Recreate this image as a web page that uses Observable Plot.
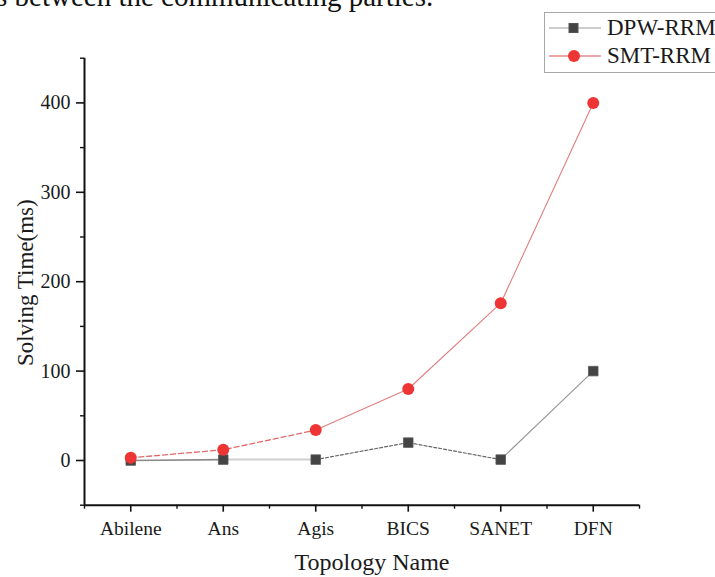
<!DOCTYPE html>
<html>
<head>
<meta charset="utf-8">
<script src="https://cdn.jsdelivr.net/npm/d3@7"></script>
<script src="https://cdn.jsdelivr.net/npm/@observablehq/plot@0.6"></script>
<style>
  body { margin: 0; background: #fff; }
  #wrap { position: relative; width: 715px; height: 577px; overflow: hidden; background: #fff; font-family: "Liberation Serif", "Times New Roman", serif; }
  #toptext { position: absolute; left: -4px; top: -20px; font-size: 29px; color: #111; white-space: nowrap; line-height: 32px; }
  #chart { position: absolute; left: 0; top: 0; }
  #legend { position: absolute; left: 544px; top: 12px; width: 200px; height: 59px; border: 1.5px solid #a8a8a8; background: #fff; }
  .lrow { position: absolute; left: 0; height: 28px; width: 200px; }
  .lrow svg { position: absolute; left: 0; top: 0; }
  .lrow span { position: absolute; left: 62px; top: 0; font-size: 23px; line-height: 28px; color: #1a1a1a; }
</style>
</head>
<body>
<div id="wrap">
  <div id="toptext">s between the communicating parties.</div>
  <div id="chart"></div>
  <div id="legend">
    <div class="lrow" style="top:1px">
      <svg width="60" height="28"><line x1="4" y1="14" x2="56" y2="14" stroke="#bdbdbd" stroke-width="1.5"/><rect x="24" y="9.5" width="9" height="9" fill="#444" stroke="#555"/></svg>
      <span>DPW-RRM</span>
    </div>
    <div class="lrow" style="top:29px">
      <svg width="60" height="28"><line x1="4" y1="14" x2="56" y2="14" stroke="#e58a8a" stroke-width="1.5"/><circle cx="29" cy="14" r="6" fill="#ee3535"/></svg>
      <span>SMT-RRM</span>
    </div>
  </div>
</div>
<script>
const categories = ["Abilene", "Ans", "Agis", "BICS", "SANET", "DFN"];
const dpwRrm = [0, 1, 1, 20, 1, 100];
const smtRrm = [3, 12, 34, 80, 176, 400];
const yTicks = [0, 100, 200, 300, 400];
const yMinorTicks = [-50, 50, 150, 250, 350, 450];
const xLabel = "Topology Name";
const yLabel = "Solving Time(ms)";

const rows = categories.map((c, i) => ({i, c, dpw: dpwRrm[i], smt: smtRrm[i]}));
const xMajor = categories.map((c, i) => i);
const xMinor = categories.map((c, i) => i + 0.5).concat([-0.5]);

const font = "Liberation Serif, Times New Roman, serif";

const plot = Plot.plot({
  width: 715,
  height: 577,
  marginLeft: 84,
  marginRight: 76,
  marginTop: 57.7,
  marginBottom: 72.3,
  style: {fontFamily: font, background: "transparent", color: "#1a1a1a", overflow: "visible"},
  x: {type: "linear", domain: [-0.5, 5.5]},
  y: {type: "linear", domain: [-50, 450]},
  marks: [
    // DPW-RRM line segments
    Plot.line(rows.slice(0, 2), {x: "i", y: "dpw", stroke: "#8a8a8a", strokeWidth: 1.6}),
    Plot.line(rows.slice(1, 3), {x: "i", y: "dpw", stroke: "#cfcfcf", strokeWidth: 2}),
    Plot.line(rows.slice(2, 5), {x: "i", y: "dpw", stroke: "#666", strokeWidth: 1.2, strokeDasharray: "3,2"}),
    Plot.line(rows.slice(4, 6), {x: "i", y: "dpw", stroke: "#9a9a9a", strokeWidth: 1.2}),
    // SMT-RRM line segments
    Plot.line(rows.slice(0, 3), {x: "i", y: "smt", stroke: "#e06a6a", strokeWidth: 1.3, strokeDasharray: "5,3"}),
    Plot.line(rows.slice(2, 6), {x: "i", y: "smt", stroke: "#e07f7f", strokeWidth: 1.1}),
    // markers
    Plot.dot(rows, {x: "i", y: "dpw", symbol: "square", r: 5.4, fill: "#444", stroke: "#5a5a5a", strokeWidth: 0.8}),
    Plot.dot(rows, {x: "i", y: "smt", symbol: "circle", r: 6, fill: "#ee3535"}),
    // axis lines
    Plot.ruleX([-0.5], {stroke: "#111", strokeWidth: 2}),
    Plot.ruleY([-50], {stroke: "#111", strokeWidth: 2}),
    // y axis
    Plot.axisY({ticks: yTicks, tickSize: 8, tickPadding: 6, fontSize: 20, stroke: "#111", strokeWidth: 1.6, label: null, tickFormat: d => String(d)}),
    Plot.axisY({ticks: yMinorTicks, tickSize: 4, stroke: "#111", strokeWidth: 1.4, label: null, tickFormat: () => ""}),
    // x axis
    Plot.axisX({ticks: xMajor, tickSize: 7, tickPadding: 9, fontSize: 19.5, stroke: "#111", strokeWidth: 1.6, label: null, tickFormat: i => categories[i]}),
    Plot.axisX({ticks: xMinor, tickSize: 4, stroke: "#111", strokeWidth: 1.4, label: null, tickFormat: () => ""}),
    // axis titles
    Plot.text([xLabel], {frameAnchor: "bottom", dx: 10, dy: 57, text: d => d, fontSize: 24, fill: "#1a1a1a", lineAnchor: "middle", textAnchor: "middle"}),
    Plot.text([yLabel], {frameAnchor: "left", dx: -59, dy: 1, rotate: -90, text: d => d, fontSize: 23, fill: "#1a1a1a", lineAnchor: "middle", textAnchor: "middle"})
  ]
});
document.getElementById("chart").appendChild(plot);
</script>
</body>
</html>
